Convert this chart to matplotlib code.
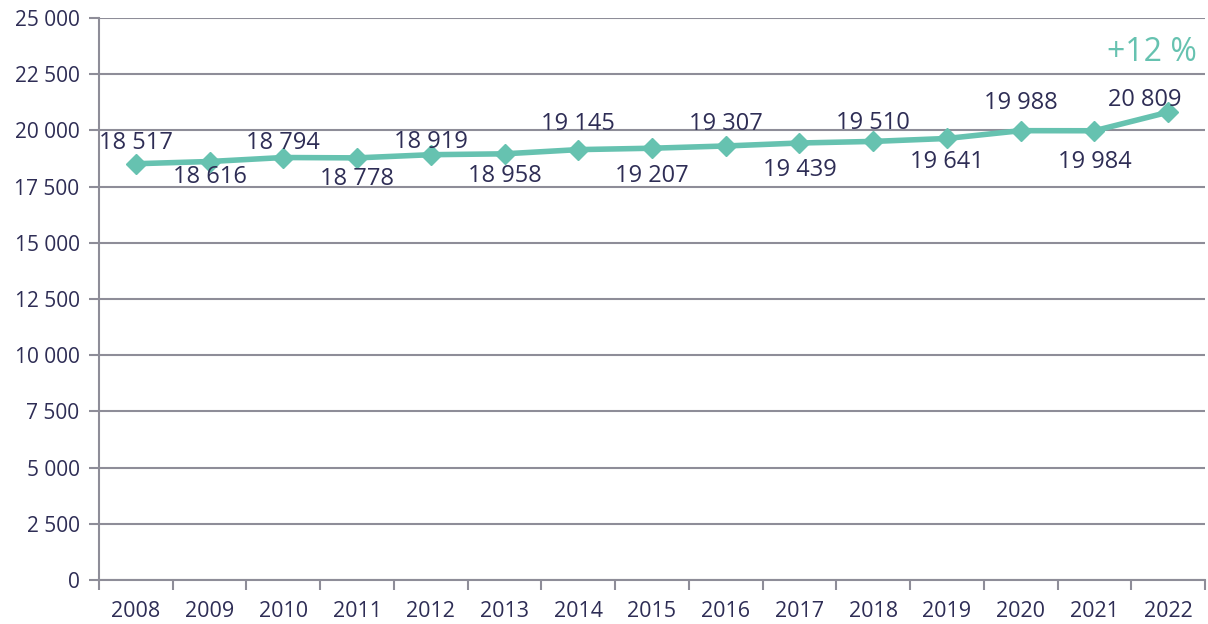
import matplotlib.pyplot as plt
import numpy as np

years = [str(y) for y in range(2008, 2023)]
values = [18517, 18616, 18794, 18778, 18919, 18958, 19145, 19207,
          19307, 19439, 19510, 19641, 19988, 19984, 20809]
y_ticks = [0, 2500, 5000, 7500, 10000, 12500, 15000, 17500, 20000, 22500, 25000]
growth_text = '+12 %'

# label offsets from the marker, in pixels (positive = above)
label_dy = [23, -13, 17, -19, 15, -20, 28, -26, 24, -25, 20, -22, 30, -29, 14]
label_dx = [0] * 14 + [-23]

teal = '#66C2B0'
navy = '#2E2D55'
gray = '#8E8D98'

plt.rcParams['font.family'] = ['Open Sans', 'DejaVu Sans']

fig = plt.figure(figsize=(12.08, 6.24), dpi=100)
ax = fig.add_axes([99/1208, 1-580/624, 1106/1208, 562/624])

x = np.arange(len(years))
ax.plot(x, values, color=teal, lw=4, marker='D', ms=10, zorder=3)

for xi, v, dy, dx in zip(x, values, label_dy, label_dx):
    txt = f'{v:,}'.replace(',', ' ')
    ax.annotate(txt, (xi, v), xytext=(dx*0.72, (dy - 2)*0.72), textcoords='offset points',
                ha='center', va='center', fontsize=17, color=navy)

ax.text(len(x) - 1.22, 23450, growth_text, ha='center', va='center',
        fontsize=23, color=teal)

ax.set_xlim(-0.5, len(x) - 0.5)
ax.set_ylim(0, 25000)
ax.set_yticks(y_ticks)
ax.set_yticklabels([f'{t:,}'.replace(',', ' ') for t in y_ticks])
ax.set_xticks(x)
ax.set_xticklabels(years)
ax.set_xticks(np.arange(-0.5, len(x)), minor=True)
ax.tick_params(axis='x', which='major', length=0, pad=15, labelsize=15.5, labelcolor=navy)
ax.tick_params(axis='x', which='minor', length=7, width=1.5, color=gray)
ax.tick_params(axis='y', length=7, width=1.5, color=gray, labelsize=15,
               labelcolor=navy, pad=7)

ax.grid(axis='y', color=gray, lw=1.5)
ax.set_axisbelow(True)
for s in ['top', 'right']:
    ax.spines[s].set_visible(False)
for s in ['left', 'bottom']:
    ax.spines[s].set_color(gray)
    ax.spines[s].set_linewidth(1.5)

fig.savefig('out.png', dpi=100)
